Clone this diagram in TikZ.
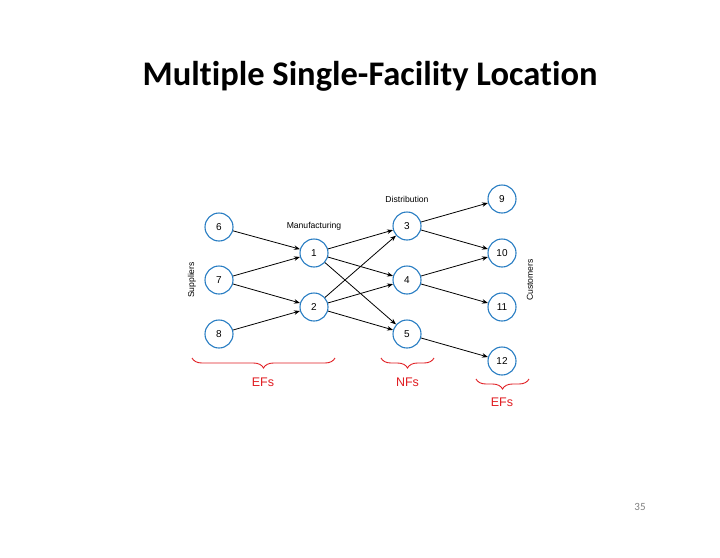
\documentclass[tikz,border=0pt]{standalone}
\usepackage{fontspec}
\setmainfont{Liberation Sans}
\newfontfamily\titlefont[Ligatures=NoCommon,RawFeature={-liga;-dlig;-clig}]{Carlito}
\usetikzlibrary{arrows.meta,decorations.pathreplacing}
\definecolor{nodeblue}{RGB}{40,125,195}
\definecolor{bracered}{RGB}{225,30,35}
\tikzset{
  fac/.style={circle,draw=nodeblue,line width=1.1pt,minimum size=28pt,inner sep=0pt,fill=white,font=\fontsize{10}{10}\selectfont},
  lbl/.style={font=\fontsize{8.6}{8.6}\selectfont},
  arr/.style={-{Stealth[length=6pt,width=4.5pt]},line width=0.8pt,black},
  br/.style={decorate,decoration={brace,mirror,amplitude=10pt},draw=bracered,line width=0.9pt},
  brl/.style={text=bracered,font=\fontsize{12.5}{12.5}\selectfont}
}
\begin{document}
\begin{tikzpicture}[x=1pt,y=-1pt]
\useasboundingbox[fill=white] (0,0) rectangle (720,557);
\node[font=\titlefont\bfseries\fontsize{34.5}{34.5}\selectfont] (title) at (370,76) {Multiple Single-Facility Location};
\node[fac] (n6) at (219,227) {6};
\node[fac] (n7) at (219,280) {7};
\node[fac] (n8) at (219,334) {8};
\node[fac] (n1) at (314,253) {1};
\node[fac] (n2) at (314,307) {2};
\node[fac] (n3) at (407,226) {3};
\node[fac] (n4) at (407,280) {4};
\node[fac] (n5) at (407,334) {5};
\node[fac] (n9) at (502,199) {9};
\node[fac] (n10) at (502,253) {10};
\node[fac] (n11) at (502,307) {11};
\node[fac] (n12) at (502,361) {12};
\node[lbl] (manu) at (314,226) {Manufacturing};
\node[lbl] (dist) at (407,199) {Distribution};
\node[lbl,rotate=90] (supp) at (192,280) {Suppliers};
\node[lbl,rotate=90] (cust) at (530,280) {Customers};
\draw[arr] (n6) -- (n1);
\draw[arr] (n7) -- (n1);
\draw[arr] (n7) -- (n2);
\draw[arr] (n8) -- (n2);
\draw[arr] (n1) -- (n3);
\draw[arr] (n1) -- (n4);
\draw[arr] (n1) -- (n5);
\draw[arr] (n2) -- (n3);
\draw[arr] (n2) -- (n4);
\draw[arr] (n2) -- (n5);
\draw[arr] (n3) -- (n9);
\draw[arr] (n3) -- (n10);
\draw[arr] (n4) -- (n10);
\draw[arr] (n4) -- (n11);
\draw[arr] (n5) -- (n12);
\coordinate (b1a) at (192,358);
\coordinate (b1b) at (335,358);
\coordinate (b2a) at (381,358);
\coordinate (b2b) at (434,358);
\coordinate (b3a) at (476,379);
\coordinate (b3b) at (529,379);
\draw[br] (b1a) -- (b1b);
\draw[br] (b2a) -- (b2b);
\draw[br] (b3a) -- (b3b);
\node[brl] (ef1) at (263,382) {EFs};
\node[brl] (nf) at (407.5,382) {NFs};
\node[brl] (ef2) at (502,402) {EFs};
\node[font=\titlefont\fontsize{11}{11}\selectfont,text=gray] (page) at (640,507) {35};
\end{tikzpicture}
\end{document}
